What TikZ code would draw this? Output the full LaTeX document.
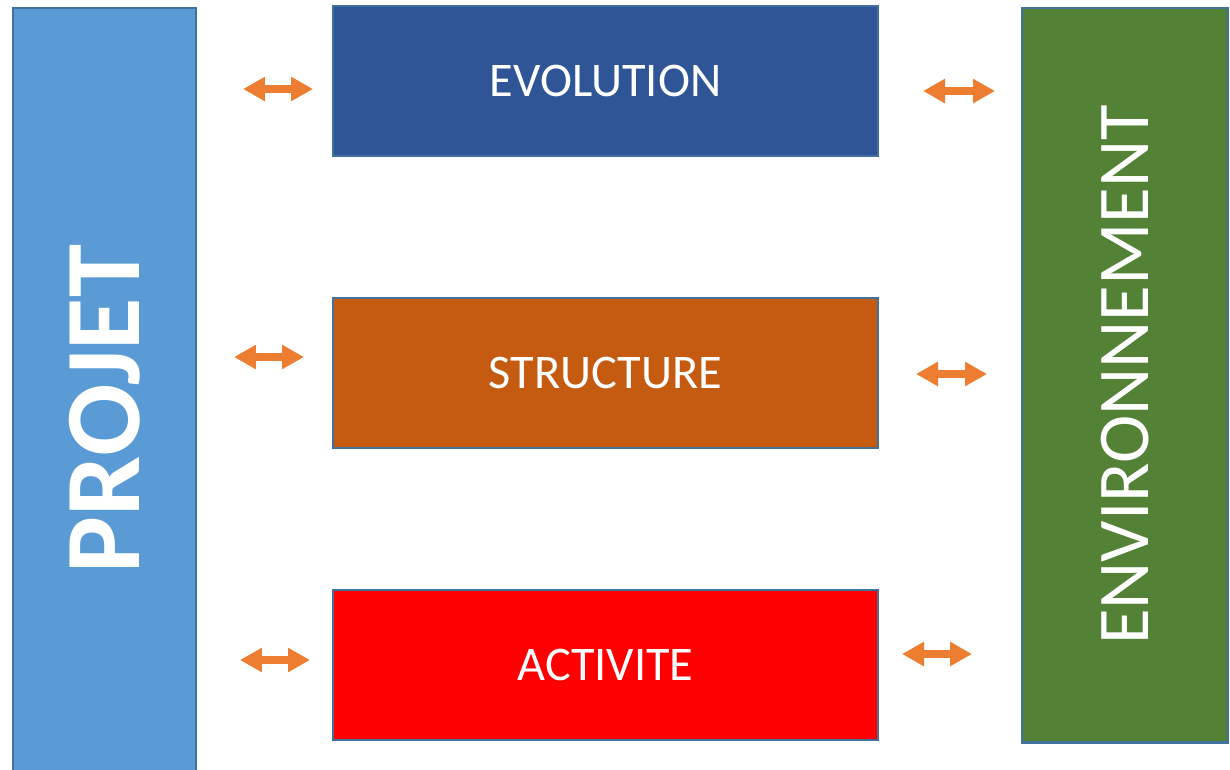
\documentclass[tikz,border=0pt]{standalone}
\usepackage{fontspec}
\setmainfont{Carlito}
\usepackage{tikz}
\usetikzlibrary{positioning}
\usetikzlibrary{arrows.meta}
\definecolor{projblue}{HTML}{5B9BD5}
\definecolor{evolblue}{HTML}{2F5597}
\definecolor{structorange}{HTML}{C55A11}
\definecolor{activred}{HTML}{FF0000}
\definecolor{envgreen}{HTML}{538135}
\definecolor{boxline}{HTML}{41719C}
\definecolor{arroworange}{HTML}{ED7D31}
\tikzstyle{box} = [draw=boxline, line width=1.2pt, text=white, minimum width=10.9cm, minimum height=3cm, font=\fontsize{27.5}{27.5}\selectfont]
\tikzstyle{side} = [draw=boxline, line width=1.2pt, text=white, rotate=90]
\tikzstyle{arrow} = [draw=arroworange, line width=4.6pt, {Triangle[length=0.44cm,width=0.46cm]}-{Triangle[length=0.44cm,width=0.46cm]}]

\begin{document}
\begin{tikzpicture}[x=0.02cm, y=-0.02cm]
  \useasboundingbox (0,0) rectangle (1230,769);
  \clip (0,0) rectangle (1230,769);

  % Side blocks
  \node[side, fill=projblue, minimum width=16.04cm, minimum height=3.66cm,
        font=\fontsize{61}{61}\selectfont\bfseries] (projet) at (104.5,409) {PROJET};
  \node[side, fill=envgreen, minimum width=14.7cm, minimum height=4.12cm,
        font=\fontsize{41.5}{41.5}\selectfont] (env) at (1125,375) {ENVIRONNEMENT};

  % Middle blocks
  \node[box, fill=evolblue] (evol) at (605.5,81) {EVOLUTION};
  \node[box, fill=structorange, below=2.8cm of evol] (struct) {STRUCTURE};
  \node[box, fill=activred, below=2.8cm of struct] (activ) {ACTIVITE};

  % Arrows
  \coordinate (pe1) at (243,89);  \coordinate (pe2) at (313,89);
  \coordinate (ps1) at (234,357); \coordinate (ps2) at (304,357);
  \coordinate (pa1) at (240,660); \coordinate (pa2) at (310,660);
  \coordinate (ee1) at (923,91);  \coordinate (ee2) at (995,91);
  \coordinate (es1) at (916,374); \coordinate (es2) at (987,374);
  \coordinate (ea1) at (902,654); \coordinate (ea2) at (972,654);
  \draw[arrow] (pe1) -- (pe2);
  \draw[arrow] (ps1) -- (ps2);
  \draw[arrow] (pa1) -- (pa2);
  \draw[arrow] (ee1) -- (ee2);
  \draw[arrow] (es1) -- (es2);
  \draw[arrow] (ea1) -- (ea2);
\end{tikzpicture}
\end{document}
